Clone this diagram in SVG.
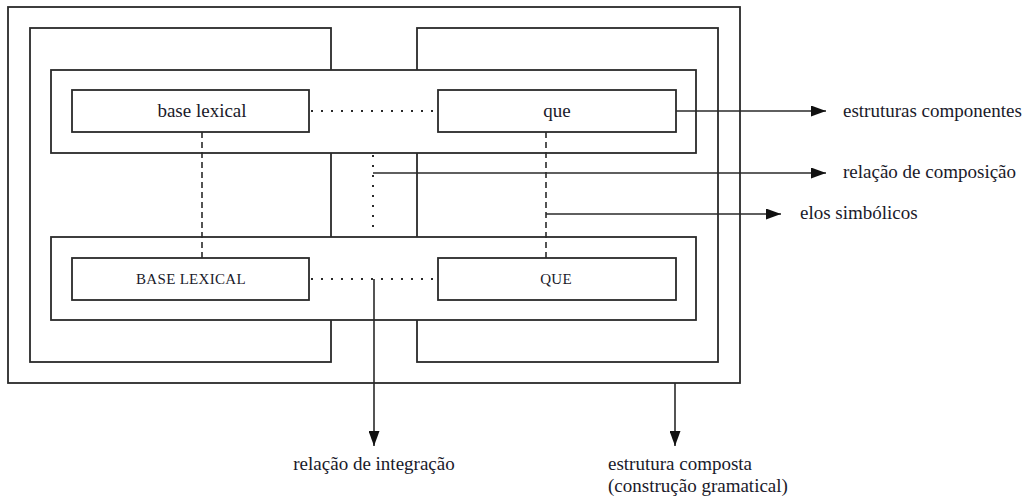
<svg xmlns="http://www.w3.org/2000/svg" width="1032" height="497" viewBox="0 0 1032 497">
<style>
.box{fill:none;stroke:#2a2a2a;stroke-width:1.8}
.wbox{fill:#fff;stroke:#2a2a2a;stroke-width:1.8}
.ln{fill:none;stroke:#2a2a2a;stroke-width:1.6}
.dot{fill:none;stroke:#2a2a2a;stroke-width:2;stroke-dasharray:2 8}
.dash{fill:none;stroke:#2a2a2a;stroke-width:1.6;stroke-dasharray:6 4}
.t{font-family:"Liberation Serif","Times New Roman",serif;font-size:19px;fill:#1a1a2a}
.c{font-family:"Liberation Serif","Times New Roman",serif;font-size:15px;fill:#1a1a2a;letter-spacing:0.3px}
</style>
<defs>
<marker id="ah" viewBox="0 0 15 11" refX="15" refY="5.5" markerWidth="15" markerHeight="11" markerUnits="userSpaceOnUse" orient="auto">
<path d="M0,0 L15,5.5 L0,11 Z" fill="#111"/>
</marker>
</defs>
<rect width="1032" height="497" fill="#fff"/>
<g id="outer"><rect class="box" x="8" y="7" width="732" height="376"/></g>
<g id="left-structure"><rect class="box" x="30" y="28" width="301" height="334"/></g>
<g id="right-structure"><rect class="box" x="417" y="28" width="301" height="334"/></g>
<g id="top-band"><rect class="wbox" x="51" y="70" width="645" height="83"/></g>
<g id="bottom-band"><rect class="wbox" x="51" y="237" width="645" height="83"/></g>
<g id="node-base-lexical">
<rect class="wbox" x="72" y="90" width="237" height="42"/>
<text class="t" x="202" y="117" text-anchor="middle">base lexical</text>
</g>
<g id="node-que">
<rect class="wbox" x="438" y="90" width="238" height="42"/>
<text class="t" x="557" y="117" text-anchor="middle">que</text>
</g>
<g id="node-BASE-LEXICAL">
<rect class="wbox" x="72" y="258" width="237" height="42"/>
<text class="c" x="191" y="284" text-anchor="middle">BASE LEXICAL</text>
</g>
<g id="node-QUE">
<rect class="wbox" x="438" y="258" width="238" height="42"/>
<text class="c" x="556" y="284" text-anchor="middle">QUE</text>
</g>
<g id="connectors">
<line class="dot" x1="311" y1="111" x2="438" y2="111"/>
<line class="dot" x1="311" y1="279" x2="438" y2="279"/>
<line class="dash" x1="202" y1="132" x2="202" y2="258"/>
<line class="dash" x1="546" y1="132" x2="546" y2="258"/>
<line class="dot" x1="373" y1="155" x2="373" y2="232"/>
<line class="ln" x1="676" y1="111" x2="826" y2="111" marker-end="url(#ah)"/>
<line class="ln" x1="373" y1="173" x2="826" y2="173" marker-end="url(#ah)"/>
<line class="ln" x1="546" y1="214" x2="781" y2="214" marker-end="url(#ah)"/>
<line class="ln" x1="374" y1="279" x2="374" y2="446" marker-end="url(#ah)"/>
<line class="ln" x1="675" y1="383" x2="675" y2="446" marker-end="url(#ah)"/>
</g>
<g id="labels">
<text class="t" x="843" y="117">estruturas componentes</text>
<text class="t" x="843" y="178">relação de composição</text>
<text class="t" x="800" y="219">elos simbólicos</text>
<text class="t" x="374" y="470" text-anchor="middle">relação de integração</text>
<text class="t" x="608" y="470">estrutura composta</text>
<text class="t" x="608" y="492">(construção gramatical)</text>
</g>
</svg>
